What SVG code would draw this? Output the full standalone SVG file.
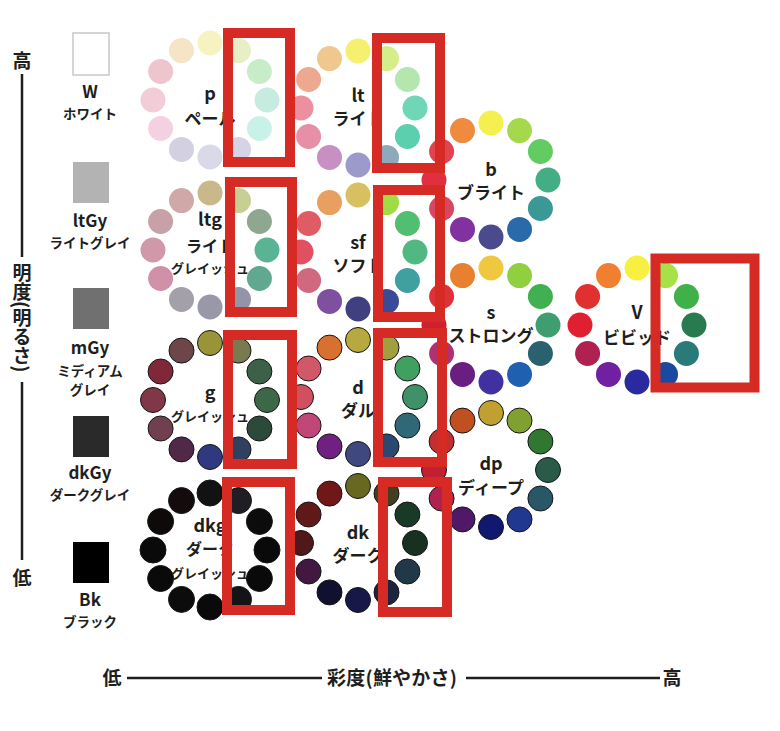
<svg xmlns="http://www.w3.org/2000/svg" width="780" height="731" viewBox="0 0 780 731">
<style>
text{font-family:"Noto Sans CJK JP","Noto Sans",sans-serif;font-weight:bold;fill:#1e1e1e;text-anchor:middle}
.ab{font-size:18px}
.jp{font-size:17px}
.jm{font-size:16px}
.js{font-size:13px}
.gl{font-size:17px}
.gj{font-size:13.5px}
.ax{font-size:19px}
.ol circle{stroke:#151515;stroke-width:1}
.box{fill:none;stroke:#d62b24;stroke-width:10}
.axl{stroke:#1e1e1e;stroke-width:2.5}
</style>
<rect width="780" height="731" fill="#ffffff"/>

<g id="axes">
<text class="ax" x="22" y="68">高</text>
<line class="axl" x1="22" y1="74" x2="22" y2="257"/>
<text class="ax" x="22" y="263" style="writing-mode:vertical-rl;text-anchor:start">明度(明るさ)</text>
<line class="axl" x1="22" y1="382" x2="22" y2="560"/>
<text class="ax" x="22" y="585">低</text>
<text class="ax" x="112" y="685">低</text>
<line class="axl" x1="127" y1="678" x2="322" y2="678"/>
<text class="ax" x="392" y="685" textLength="130">彩度(鮮やかさ)</text>
<line class="axl" x1="466" y1="678" x2="660" y2="678"/>
<text class="ax" x="672" y="685">高</text>
</g>

<g id="grays">
<g id="W"><rect x="73" y="33" width="36" height="42" fill="#ffffff" stroke="#c8c8c8" stroke-width="1.5"/>
<text class="gl" x="90" y="98">W</text><text class="gj" x="90" y="119">ホワイト</text></g>
<g id="ltGy"><rect x="73" y="162" width="36" height="41" fill="#b3b3b3"/>
<text class="gl" x="90" y="227">ltGy</text><text class="gj" x="90" y="248">ライトグレイ</text></g>
<g id="mGy"><rect x="73" y="288" width="36" height="41" fill="#707070"/>
<text class="gl" x="90" y="354">mGy</text><text class="gj" x="90" y="376">ミディアム</text><text class="gj" x="90" y="395">グレイ</text></g>
<g id="dkGy"><rect x="73" y="416" width="36" height="41" fill="#2a2a2a"/>
<text class="gl" x="90" y="479">dkGy</text><text class="gj" x="90" y="500">ダークグレイ</text></g>
<g id="Bk"><rect x="73" y="542" width="36" height="41" fill="#000000"/>
<text class="gl" x="90" y="606">Bk</text><text class="gj" x="90" y="627">ブラック</text></g>
</g>

<g id="tone-p" transform="translate(210,100)">
<circle cx="0" cy="-57" r="12.5" fill="#f6f2c2"/><circle cx="28.5" cy="-49.4" r="12.5" fill="#e6efc6"/><circle cx="49.4" cy="-28.5" r="12.5" fill="#c9ecc8"/><circle cx="57" cy="0" r="12.5" fill="#c6ece0"/><circle cx="49.4" cy="28.5" r="12.5" fill="#c9f1e8"/><circle cx="28.5" cy="49.4" r="12.5" fill="#d6d4e4"/><circle cx="0" cy="57" r="12.5" fill="#d9d9e7"/><circle cx="-28.5" cy="49.4" r="12.5" fill="#d3d1e1"/><circle cx="-49.4" cy="28.5" r="12.5" fill="#f3d1e1"/><circle cx="-57" cy="0" r="12.5" fill="#f2cdd7"/><circle cx="-49.4" cy="-28.5" r="12.5" fill="#efc5cd"/><circle cx="-28.5" cy="-49.4" r="12.5" fill="#f6e4c6"/>
<text class="ab" x="0" y="0">p</text><text class="jp" x="0" y="25">ペール</text>
</g>

<g id="tone-ltg" transform="translate(210,250)">
<circle cx="0" cy="-57" r="12.5" fill="#c8b88a"/><circle cx="28.5" cy="-49.4" r="12.5" fill="#c8cf95"/><circle cx="49.4" cy="-28.5" r="12.5" fill="#8ea890"/><circle cx="57" cy="0" r="12.5" fill="#5ab494"/><circle cx="49.4" cy="28.5" r="12.5" fill="#60a890"/><circle cx="28.5" cy="49.4" r="12.5" fill="#9494a8"/><circle cx="0" cy="57" r="12.5" fill="#9898a8"/><circle cx="-28.5" cy="49.4" r="12.5" fill="#a3a0a9"/><circle cx="-49.4" cy="28.5" r="12.5" fill="#d090a8"/><circle cx="-57" cy="0" r="12.5" fill="#d098a8"/><circle cx="-49.4" cy="-28.5" r="12.5" fill="#c8a0a8"/><circle cx="-28.5" cy="-49.4" r="12.5" fill="#d0a8a8"/>
<text class="ab" x="0" y="-24">ltg</text><text class="jm" x="0" y="2">ライト</text><text class="js" x="0" y="23">グレイッシュ</text>
</g>

<g id="tone-g" class="ol" transform="translate(210,400)">
<circle cx="0" cy="-57" r="12.5" fill="#9a9438"/><circle cx="28.5" cy="-49.4" r="12.5" fill="#7a7a50"/><circle cx="49.4" cy="-28.5" r="12.5" fill="#3c6048"/><circle cx="57" cy="0" r="12.5" fill="#3c6848"/><circle cx="49.4" cy="28.5" r="12.5" fill="#2c4a3a"/><circle cx="28.5" cy="49.4" r="12.5" fill="#304060"/><circle cx="0" cy="57" r="12.5" fill="#303880"/><circle cx="-28.5" cy="49.4" r="12.5" fill="#502848"/><circle cx="-49.4" cy="28.5" r="12.5" fill="#704050"/><circle cx="-57" cy="0" r="12.5" fill="#803848"/><circle cx="-49.4" cy="-28.5" r="12.5" fill="#802838"/><circle cx="-28.5" cy="-49.4" r="12.5" fill="#6c4648"/>
<text class="ab" x="0" y="-1">g</text><text class="js" x="0" y="21">グレイッシュ</text>
</g>

<g id="tone-dkg" class="ol" transform="translate(210,550)">
<circle cx="0" cy="-57" r="13" fill="#121212"/><circle cx="28.5" cy="-49.4" r="13" fill="#1e1e24"/><circle cx="49.4" cy="-28.5" r="13" fill="#0c0c0c"/><circle cx="57" cy="0" r="13" fill="#0a0a0a"/><circle cx="49.4" cy="28.5" r="13" fill="#0a0a0a"/><circle cx="28.5" cy="49.4" r="13" fill="#141418"/><circle cx="0" cy="57" r="13" fill="#0a0a0a"/><circle cx="-28.5" cy="49.4" r="13" fill="#0c0c0c"/><circle cx="-49.4" cy="28.5" r="13" fill="#0a0a0a"/><circle cx="-57" cy="0" r="13" fill="#0a0a0a"/><circle cx="-49.4" cy="-28.5" r="13" fill="#0e0a0a"/><circle cx="-28.5" cy="-49.4" r="13" fill="#140c0c"/>
<text class="ab" x="0" y="-18">dkg</text><text class="jm" x="0" y="5">ダーク</text><text class="js" x="0" y="28">グレイッシュ</text>
</g>

<g id="tone-lt" transform="translate(358,108)">
<circle cx="0" cy="-57" r="12.5" fill="#f5f06e"/><circle cx="28.5" cy="-49.4" r="12.5" fill="#d6ee8a"/><circle cx="49.4" cy="-28.5" r="12.5" fill="#b4e6b0"/><circle cx="57" cy="0" r="12.5" fill="#6fd6b6"/><circle cx="49.4" cy="28.5" r="12.5" fill="#5ccfae"/><circle cx="28.5" cy="49.4" r="12.5" fill="#8fa8ba"/><circle cx="0" cy="57" r="12.5" fill="#9c9acb"/><circle cx="-28.5" cy="49.4" r="12.5" fill="#c78fc2"/><circle cx="-49.4" cy="28.5" r="12.5" fill="#e88fa8"/><circle cx="-57" cy="0" r="12.5" fill="#ec8f9e"/><circle cx="-49.4" cy="-28.5" r="12.5" fill="#eea890"/><circle cx="-28.5" cy="-49.4" r="12.5" fill="#f0c88e"/>
<text class="ab" x="0" y="-6">lt</text><text class="jp" x="0" y="17">ライト</text>
</g>

<g id="tone-sf" transform="translate(358,252)">
<circle cx="0" cy="-57" r="12.5" fill="#d8c060"/><circle cx="28.5" cy="-49.4" r="12.5" fill="#a0dc44"/><circle cx="49.4" cy="-28.5" r="12.5" fill="#50c070"/><circle cx="57" cy="0" r="12.5" fill="#50b880"/><circle cx="49.4" cy="28.5" r="12.5" fill="#40a0a0"/><circle cx="28.5" cy="49.4" r="12.5" fill="#3a4a98"/><circle cx="0" cy="57" r="12.5" fill="#404080"/><circle cx="-28.5" cy="49.4" r="12.5" fill="#8050a0"/><circle cx="-49.4" cy="28.5" r="12.5" fill="#d06880"/><circle cx="-57" cy="0" r="12.5" fill="#e05060"/><circle cx="-49.4" cy="-28.5" r="12.5" fill="#e05c64"/><circle cx="-28.5" cy="-49.4" r="12.5" fill="#e8a060"/>
<text class="ab" x="0" y="-3">sf</text><text class="jp" x="0" y="20">ソフト</text>
</g>

<g id="tone-d" class="ol" transform="translate(358,397)">
<circle cx="0" cy="-57" r="12.5" fill="#b8a840"/><circle cx="28.5" cy="-49.4" r="12.5" fill="#a0a040"/><circle cx="49.4" cy="-28.5" r="12.5" fill="#40a060"/><circle cx="57" cy="0" r="12.5" fill="#409068"/><circle cx="49.4" cy="28.5" r="12.5" fill="#306878"/><circle cx="28.5" cy="49.4" r="12.5" fill="#2a4870"/><circle cx="0" cy="57" r="12.5" fill="#404880"/><circle cx="-28.5" cy="49.4" r="12.5" fill="#702080"/><circle cx="-49.4" cy="28.5" r="12.5" fill="#c04878"/><circle cx="-57" cy="0" r="12.5" fill="#d05060"/><circle cx="-49.4" cy="-28.5" r="12.5" fill="#d05868"/><circle cx="-28.5" cy="-49.4" r="12.5" fill="#d87030"/>
<text class="ab" x="0" y="-3">d</text><text class="jp" x="0" y="20">ダル</text>
</g>

<g id="tone-dk" class="ol" transform="translate(358,543)">
<circle cx="0" cy="-57" r="12.5" fill="#686820"/><circle cx="28.5" cy="-49.4" r="12.5" fill="#404020"/><circle cx="49.4" cy="-28.5" r="12.5" fill="#1a3a28"/><circle cx="57" cy="0" r="12.5" fill="#183020"/><circle cx="49.4" cy="28.5" r="12.5" fill="#203848"/><circle cx="28.5" cy="49.4" r="12.5" fill="#1c2440"/><circle cx="0" cy="57" r="12.5" fill="#181848"/><circle cx="-28.5" cy="49.4" r="12.5" fill="#101030"/><circle cx="-49.4" cy="28.5" r="12.5" fill="#401840"/><circle cx="-57" cy="0" r="12.5" fill="#501818"/><circle cx="-49.4" cy="-28.5" r="12.5" fill="#601818"/><circle cx="-28.5" cy="-49.4" r="12.5" fill="#701818"/>
<text class="ab" x="0" y="-4">dk</text><text class="jp" x="0" y="19">ダーク</text>
</g>

<g id="tone-b" transform="translate(491,180)">
<circle cx="0" cy="-57" r="12.5" fill="#f5ef4f"/><circle cx="28.5" cy="-49.4" r="12.5" fill="#a6d84e"/><circle cx="49.4" cy="-28.5" r="12.5" fill="#62cc62"/><circle cx="57" cy="0" r="12.5" fill="#43ad85"/><circle cx="49.4" cy="28.5" r="12.5" fill="#3a9896"/><circle cx="28.5" cy="49.4" r="12.5" fill="#2a6aaa"/><circle cx="0" cy="57" r="12.5" fill="#4b4a8f"/><circle cx="-28.5" cy="49.4" r="12.5" fill="#8131a0"/><circle cx="-49.4" cy="28.5" r="12.5" fill="#d84762"/><circle cx="-57" cy="0" r="12.5" fill="#e0303f"/><circle cx="-49.4" cy="-28.5" r="12.5" fill="#e1434f"/><circle cx="-28.5" cy="-49.4" r="12.5" fill="#ef8a3f"/>
<text class="ab" x="0" y="-4">b</text><text class="jp" x="0" y="19">ブライト</text>
</g>

<g id="tone-s" transform="translate(491,325)">
<circle cx="0" cy="-57" r="12.5" fill="#f0c840"/><circle cx="28.5" cy="-49.4" r="12.5" fill="#90d040"/><circle cx="49.4" cy="-28.5" r="12.5" fill="#40b050"/><circle cx="57" cy="0" r="12.5" fill="#3f9e70"/><circle cx="49.4" cy="28.5" r="12.5" fill="#2a6070"/><circle cx="28.5" cy="49.4" r="12.5" fill="#2060b0"/><circle cx="0" cy="57" r="12.5" fill="#4030a0"/><circle cx="-28.5" cy="49.4" r="12.5" fill="#6a1e80"/><circle cx="-49.4" cy="28.5" r="12.5" fill="#b03070"/><circle cx="-57" cy="0" r="12.5" fill="#d02030"/><circle cx="-49.4" cy="-28.5" r="12.5" fill="#e03038"/><circle cx="-28.5" cy="-49.4" r="12.5" fill="#e88030"/>
<text class="ab" x="0" y="-6">s</text><text class="jp" x="0" y="17">ストロング</text>
</g>

<g id="tone-dp" class="ol" transform="translate(491,470)">
<circle cx="0" cy="-57" r="12.5" fill="#c0a030"/><circle cx="28.5" cy="-49.4" r="12.5" fill="#80a030"/><circle cx="49.4" cy="-28.5" r="12.5" fill="#307830"/><circle cx="57" cy="0" r="12.5" fill="#2a5a48"/><circle cx="49.4" cy="28.5" r="12.5" fill="#285868"/><circle cx="28.5" cy="49.4" r="12.5" fill="#203890"/><circle cx="0" cy="57" r="12.5" fill="#101870"/><circle cx="-28.5" cy="49.4" r="12.5" fill="#501868"/><circle cx="-49.4" cy="28.5" r="12.5" fill="#b02050"/><circle cx="-57" cy="0" r="12.5" fill="#c02030"/><circle cx="-49.4" cy="-28.5" r="12.5" fill="#c03030"/><circle cx="-28.5" cy="-49.4" r="12.5" fill="#c05020"/>
<text class="ab" x="0" y="0">dp</text><text class="jp" x="0" y="24">ディープ</text>
</g>

<g id="tone-v" transform="translate(637,325)">
<circle cx="0" cy="-57" r="12.5" fill="#f8f040"/><circle cx="28.5" cy="-49.4" r="12.5" fill="#a8e048"/><circle cx="49.4" cy="-28.5" r="12.5" fill="#40b048"/><circle cx="57" cy="0" r="12.5" fill="#2a7a50"/><circle cx="49.4" cy="28.5" r="12.5" fill="#2a7a7a"/><circle cx="28.5" cy="49.4" r="12.5" fill="#1a4aa0"/><circle cx="0" cy="57" r="12.5" fill="#2a2aa0"/><circle cx="-28.5" cy="49.4" r="12.5" fill="#7020a0"/><circle cx="-49.4" cy="28.5" r="12.5" fill="#b02050"/><circle cx="-57" cy="0" r="12.5" fill="#e02030"/><circle cx="-49.4" cy="-28.5" r="12.5" fill="#e03030"/><circle cx="-28.5" cy="-49.4" r="12.5" fill="#f08030"/>
<text class="ab" x="0" y="-6">V</text><text class="jp" x="0" y="19">ビビッド</text>
</g>

<g id="highlights">
<rect class="box" x="228" y="33" width="62" height="129"/>
<rect class="box" x="230" y="182" width="62" height="130"/>
<rect class="box" x="228" y="335" width="64" height="129"/>
<rect class="box" x="227" y="482" width="63" height="128"/>
<rect class="box" x="377" y="38" width="63" height="130"/>
<rect class="box" x="378" y="190" width="62" height="127"/>
<rect class="box" x="378" y="333" width="64" height="129"/>
<rect class="box" x="383" y="482" width="64" height="130"/>
<rect class="box" x="655.5" y="258.5" width="99" height="129" stroke-width="11"/>
</g>
</svg>
